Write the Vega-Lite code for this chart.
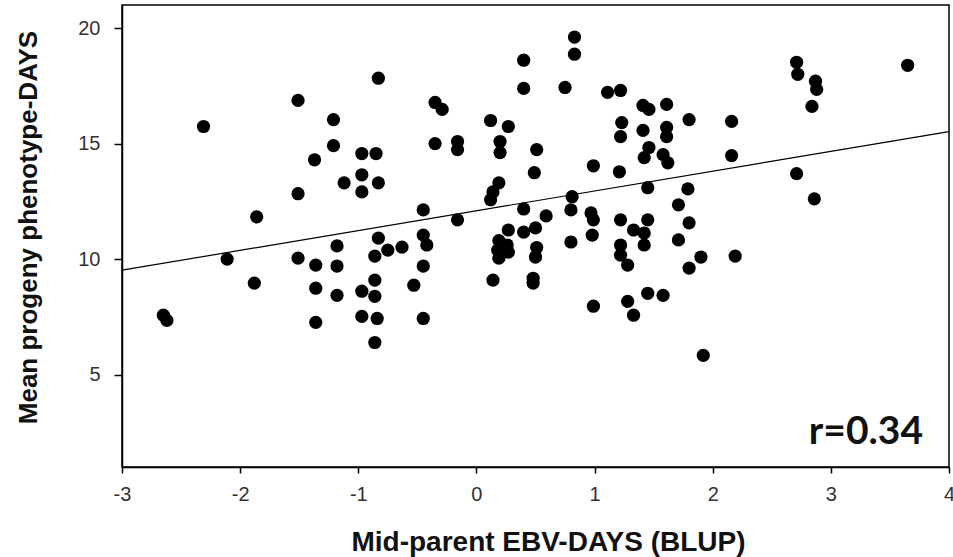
{
  "$schema": "https://vega.github.io/schema/vega-lite/v6.json",
  "width": 827,
  "height": 462,
  "autosize": {"type": "none"},
  "padding": {"left": 122, "top": 5, "right": 4, "bottom": 90},
  "background": "white",
  "config": {
    "view": {"stroke": "black", "strokeWidth": 1.5},
    "font": "Liberation Sans"
  },
  "datasets": {
    "pts": [
      {"ebv": -2.31, "days": 15.74}, {"ebv": -0.83, "days": 17.83}, {"ebv": -1.51, "days": 16.87},
      {"ebv": -1.21, "days": 16.04}, {"ebv": -1.21, "days": 14.91}, {"ebv": -1.37, "days": 14.30},
      {"ebv": -0.97, "days": 14.57}, {"ebv": -0.85, "days": 14.57}, {"ebv": -0.97, "days": 13.65},
      {"ebv": -1.12, "days": 13.30}, {"ebv": -0.83, "days": 13.30}, {"ebv": -0.97, "days": 12.91},
      {"ebv": -1.51, "days": 12.83}, {"ebv": -1.86, "days": 11.83}, {"ebv": -1.18, "days": 10.57},
      {"ebv": -0.83, "days": 10.91}, {"ebv": -0.75, "days": 10.39}, {"ebv": -0.63, "days": 10.52},
      {"ebv": -2.11, "days": 10.0}, {"ebv": -1.88, "days": 8.96}, {"ebv": -2.65, "days": 7.57},
      {"ebv": -2.62, "days": 7.35}, {"ebv": -1.51, "days": 10.04}, {"ebv": -1.36, "days": 9.74},
      {"ebv": -1.36, "days": 8.74}, {"ebv": -1.36, "days": 7.26}, {"ebv": -1.18, "days": 9.70},
      {"ebv": -1.18, "days": 8.43}, {"ebv": -0.86, "days": 10.13}, {"ebv": -0.86, "days": 9.09},
      {"ebv": -0.97, "days": 8.61}, {"ebv": -0.86, "days": 8.39}, {"ebv": -0.97, "days": 7.52},
      {"ebv": -0.84, "days": 7.43}, {"ebv": -0.86, "days": 6.39}, {"ebv": -0.35, "days": 16.78},
      {"ebv": -0.29, "days": 16.48}, {"ebv": -0.35, "days": 15.0}, {"ebv": -0.16, "days": 15.09},
      {"ebv": -0.16, "days": 14.74}, {"ebv": 0.12, "days": 16.0}, {"ebv": 0.27, "days": 15.74},
      {"ebv": 0.20, "days": 15.09}, {"ebv": 0.20, "days": 14.61}, {"ebv": 0.40, "days": 18.61},
      {"ebv": 0.40, "days": 17.39}, {"ebv": 0.83, "days": 19.61}, {"ebv": 0.83, "days": 18.87},
      {"ebv": 0.75, "days": 17.43}, {"ebv": 0.51, "days": 14.74}, {"ebv": 0.49, "days": 13.74},
      {"ebv": 1.11, "days": 17.22}, {"ebv": 1.22, "days": 17.30}, {"ebv": 1.41, "days": 16.65},
      {"ebv": 1.46, "days": 16.48}, {"ebv": 1.61, "days": 16.70}, {"ebv": 1.23, "days": 15.91},
      {"ebv": 1.22, "days": 15.30}, {"ebv": 1.41, "days": 15.57}, {"ebv": 1.61, "days": 15.70},
      {"ebv": 1.61, "days": 15.30}, {"ebv": 1.46, "days": 14.83}, {"ebv": 1.42, "days": 14.39},
      {"ebv": 1.58, "days": 14.52}, {"ebv": 1.62, "days": 14.17}, {"ebv": 0.99, "days": 14.04},
      {"ebv": 1.21, "days": 13.78}, {"ebv": 1.45, "days": 13.09}, {"ebv": 0.19, "days": 13.30},
      {"ebv": 0.14, "days": 12.91}, {"ebv": 0.12, "days": 12.57}, {"ebv": -0.45, "days": 12.13},
      {"ebv": -0.16, "days": 11.70}, {"ebv": 0.40, "days": 12.17}, {"ebv": 0.81, "days": 12.70},
      {"ebv": 0.80, "days": 12.13}, {"ebv": 0.59, "days": 11.87}, {"ebv": 0.97, "days": 12.0},
      {"ebv": 0.99, "days": 11.70}, {"ebv": 0.98, "days": 11.04}, {"ebv": 1.22, "days": 11.70},
      {"ebv": 1.45, "days": 11.70}, {"ebv": 1.33, "days": 11.26}, {"ebv": 1.42, "days": 11.13},
      {"ebv": 1.71, "days": 12.35}, {"ebv": -0.45, "days": 11.04}, {"ebv": -0.42, "days": 10.61},
      {"ebv": 0.27, "days": 11.26}, {"ebv": 0.40, "days": 11.17}, {"ebv": 0.50, "days": 11.35},
      {"ebv": 0.19, "days": 10.80}, {"ebv": 0.80, "days": 10.74}, {"ebv": 1.22, "days": 10.61},
      {"ebv": 1.42, "days": 10.61}, {"ebv": 0.51, "days": 10.50}, {"ebv": 1.71, "days": 10.83},
      {"ebv": -0.45, "days": 9.70}, {"ebv": -0.53, "days": 8.87}, {"ebv": -0.45, "days": 7.43},
      {"ebv": 0.14, "days": 9.09}, {"ebv": 0.18, "days": 10.39}, {"ebv": 0.19, "days": 10.04},
      {"ebv": 0.26, "days": 10.61}, {"ebv": 0.27, "days": 10.30}, {"ebv": 0.50, "days": 10.09},
      {"ebv": 0.48, "days": 9.17}, {"ebv": 0.48, "days": 8.96}, {"ebv": 0.99, "days": 7.96},
      {"ebv": 1.22, "days": 10.17}, {"ebv": 1.28, "days": 9.74}, {"ebv": 1.28, "days": 8.17},
      {"ebv": 1.33, "days": 7.57}, {"ebv": 1.45, "days": 8.52}, {"ebv": 1.58, "days": 8.43},
      {"ebv": 1.80, "days": 16.04}, {"ebv": 2.16, "days": 15.96}, {"ebv": 2.16, "days": 14.48},
      {"ebv": 2.71, "days": 18.52}, {"ebv": 2.72, "days": 18.0}, {"ebv": 2.87, "days": 17.70},
      {"ebv": 2.88, "days": 17.35}, {"ebv": 2.84, "days": 16.61}, {"ebv": 3.65, "days": 18.39},
      {"ebv": 2.71, "days": 13.70}, {"ebv": 2.86, "days": 12.61}, {"ebv": 1.79, "days": 13.04},
      {"ebv": 1.80, "days": 11.57}, {"ebv": 1.90, "days": 10.09}, {"ebv": 1.80, "days": 9.61},
      {"ebv": 2.19, "days": 10.13}, {"ebv": 1.92, "days": 5.83}
    ],
    "fit": [
      {"ebv": -3, "days": 9.52},
      {"ebv": 4, "days": 15.52}
    ],
    "label": [
      {"ebv": 3.78, "days": 2.0, "text": "r=0.34"}
    ]
  },
  "encoding": {
    "x": {
      "field": "ebv", "type": "quantitative",
      "scale": {"domain": [-3, 4], "nice": false, "zero": false},
      "axis": {
        "title": "Mid-parent EBV-DAYS (BLUP)",
        "values": [-3, -2, -1, 0, 1, 2, 3, 4],
        "labelExpr": "'' + datum.value",
        "grid": false,
        "domainColor": "black", "domainWidth": 1.5,
        "tickColor": "black", "tickSize": 6, "tickWidth": 1.5,
        "labelFont": "Liberation Sans", "labelFontSize": 20, "labelColor": "#333333",
        "labelPadding": 11, "labelFlush": false, "labelOverlap": false,
        "titleFont": "Liberation Sans", "titleFontSize": 28, "titleFontWeight": "bold",
        "titleColor": "#111111",
        "titleX": 426, "titleY": 83, "titleBaseline": "alphabetic"
      }
    },
    "y": {
      "field": "days", "type": "quantitative",
      "scale": {"domain": [1, 21], "nice": false, "zero": false},
      "axis": {
        "title": "Mean progeny phenotype-DAYS",
        "values": [5, 10, 15, 20],
        "labelExpr": "'' + datum.value",
        "grid": false,
        "domainColor": "black", "domainWidth": 1.5,
        "tickColor": "black", "tickSize": 8, "tickWidth": 1.5,
        "labelFont": "Liberation Sans", "labelFontSize": 20, "labelColor": "#333333",
        "labelPadding": 14,
        "titleFont": "Liberation Sans", "titleFontSize": 26, "titleFontWeight": "bold",
        "titleColor": "#111111",
        "titleX": -86, "titleY": 222, "titleBaseline": "alphabetic", "titleAngle": -90
      }
    }
  },
  "layer": [
    {
      "data": {"name": "fit"},
      "mark": {"type": "line", "color": "black", "strokeWidth": 1.2}
    },
    {
      "data": {"name": "pts"},
      "mark": {"type": "point", "shape": "circle", "filled": true, "color": "black", "opacity": 1, "size": 175}
    },
    {
      "data": {"name": "label"},
      "mark": {"type": "text", "font": "Lato", "fontWeight": "bold", "fontSize": 39, "align": "right", "baseline": "alphabetic", "color": "#111111"},
      "encoding": {"text": {"field": "text"}}
    }
  ]
}
